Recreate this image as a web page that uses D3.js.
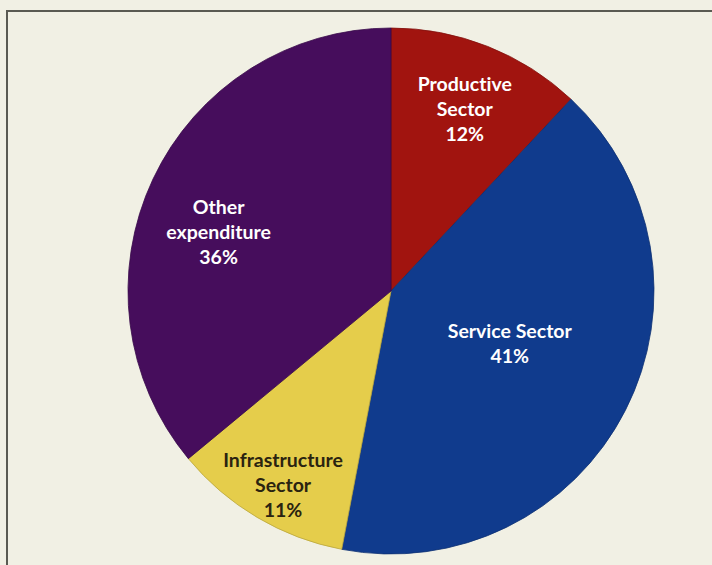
<!DOCTYPE html>
<html>
<head>
<meta charset="utf-8">
<script src="https://cdn.jsdelivr.net/npm/d3@7"></script>
<style>
  body { margin: 0; background: #f1f0e4; }
  svg { display: block; }
</style>
</head>
<body>
<div id="chart"></div>
<script>
var categories = ["Productive Sector", "Service Sector", "Infrastructure Sector", "Other expenditure"];
var shares = [12, 41, 11, 36];
var labelLines = [["Productive", "Sector"], ["Service Sector"], ["Infrastructure", "Sector"], ["Other", "expenditure"]];

var colors = ["#a1140f", "#103b8d", "#e5cd4b", "#460d5c"];
var textColors = ["#ffffff", "#ffffff", "#2a2310", "#ffffff"];
// label placement: distance from centre and angle nudge (degrees)
var labelRadius = [196, 130, 222, 182];
var labelNudge = [0.5, -3, -1.5, -6.5];

var width = 712, height = 565,
    cx = 391, cy = 291, radius = 263;

var svg = d3.select("#chart").append("svg")
    .attr("width", width)
    .attr("height", height)
    .style("background-color", "#f1f0e4");

// frame
svg.append("rect")
    .attr("x", 7).attr("y", 11)
    .attr("width", 720).attr("height", 570)
    .attr("fill", "#f1f0e4")
    .attr("stroke", "#5a5a52")
    .attr("stroke-width", 2);

var g = svg.append("g")
    .attr("transform", "translate(" + cx + "," + cy + ")");

var pie = d3.pie().sort(null).value(function(d) { return d; });
var arcs = pie(shares);

var arc = d3.arc().innerRadius(0).outerRadius(radius);

g.selectAll("path.slice")
  .data(arcs)
  .enter()
  .append("path")
    .attr("class", "slice")
    .attr("d", arc)
    .attr("fill", function(d, i) { return colors[i]; })
    .attr("stroke", function(d, i) { return d3.color(colors[i]).darker(0.6); })
    .attr("stroke-width", 0.8);

var labels = g.selectAll("text.label")
  .data(arcs)
  .enter()
  .append("text")
    .attr("class", "label")
    .attr("text-anchor", "middle")
    .attr("font-family", "Lato, 'Open Sans', sans-serif")
    .attr("font-weight", "bold")
    .attr("font-size", "19.5px")
    .style("font-variant-ligatures", "none")
    .attr("fill", function(d, i) { return textColors[i]; })
    .attr("transform", function(d, i) {
      var a = (d.startAngle + d.endAngle) / 2 + labelNudge[i] * Math.PI / 180;
      var x = Math.sin(a) * labelRadius[i], y = -Math.cos(a) * labelRadius[i];
      return "translate(" + x + "," + y + ")";
    });

labels.each(function(d, i) {
  var lines = labelLines[i].concat([shares[i] + "%"]);
  var lh = 25;
  var top = -(lines.length - 1) * lh / 2;
  var t = d3.select(this);
  lines.forEach(function(s, k) {
    t.append("tspan")
      .attr("x", 0)
      .attr("y", top + k * lh)
      .attr("dy", "0.35em")
      .text(s);
  });
});
</script>
</body>
</html>
